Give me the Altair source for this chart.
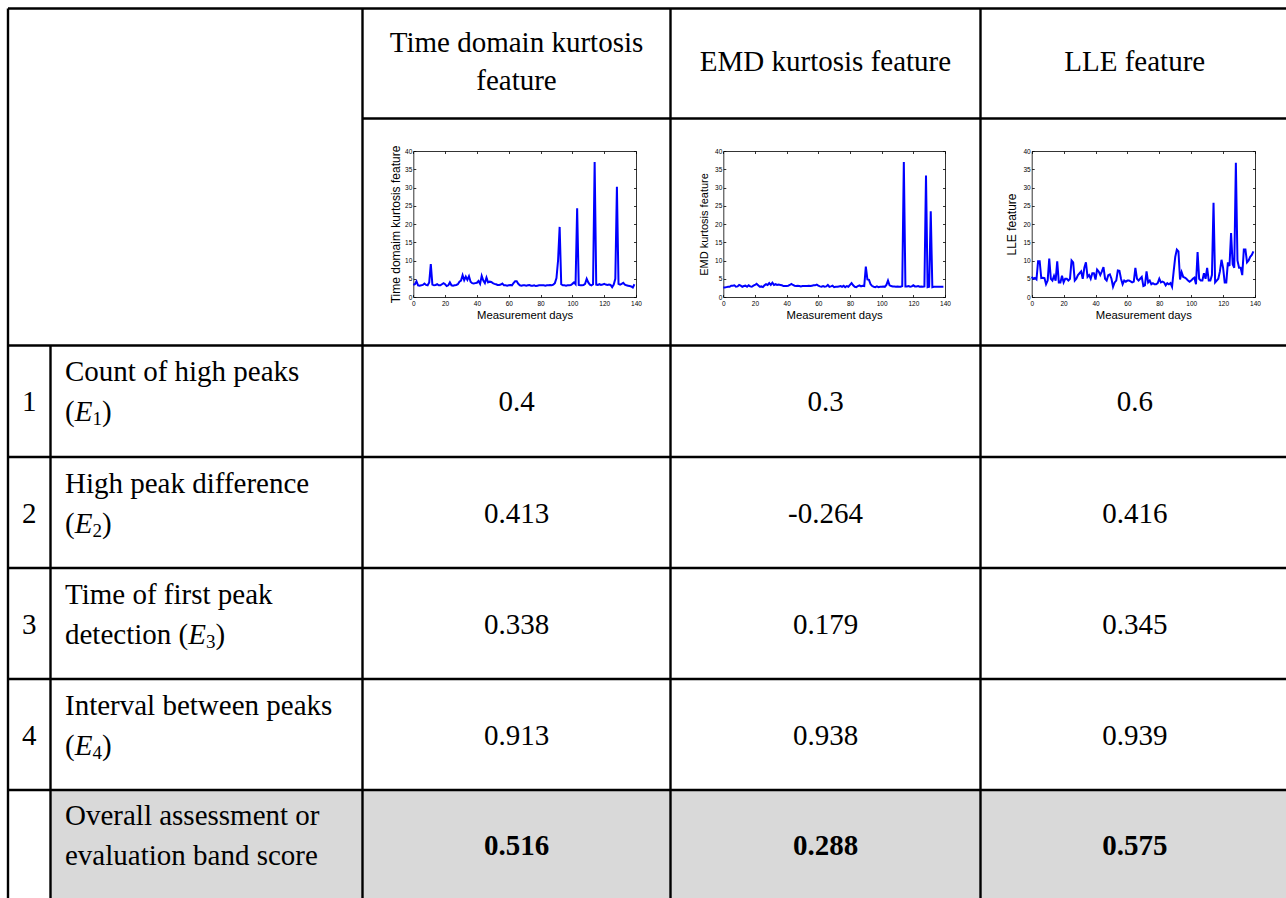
import altair as alt
import pandas as pd

W, H = 1286, 898
SERIF = "Liberation Serif"
SANS = "Liberation Sans"
FS = 29          # table font size
SUB_FS = 19      # subscript font size

# ---------------- data ----------------
days = list(range(140))

td_kurtosis = [
    3.3, 3.5, 4.3, 3.2, 3.1, 3.2, 3.3, 3.7, 3.3, 3.2,
    4.0, 9.0, 3.4, 3.2, 3.3, 3.5, 3.2, 3.2, 3.5, 3.8,
    3.5, 3.0, 3.2, 4.0, 3.2, 3.1, 3.2, 3.3, 3.5, 4.2,
    4.5, 6.0, 4.6, 5.6, 4.7, 5.7, 4.2, 3.8, 3.7, 3.8,
    3.9, 4.4, 3.6, 5.8, 4.5, 3.8, 5.3, 4.0, 4.2, 4.1,
    3.8, 3.6, 3.5, 3.3, 3.3, 3.4, 3.7, 3.2, 3.2, 3.1,
    3.2, 3.3, 3.2, 3.8, 4.3, 4.3, 3.6, 3.2, 3.1, 3.2,
    3.2, 3.1, 3.2, 3.3, 3.1, 3.1, 3.2, 3.0, 3.1, 3.2,
    3.2, 3.2, 3.2, 3.1, 3.2, 3.2, 3.3, 3.2, 3.4, 3.8,
    5.2, 10.0, 19.2, 3.5, 3.2, 3.2, 3.1, 3.2, 3.2, 3.3,
    3.6, 4.0, 3.5, 24.3, 3.3, 3.2, 3.2, 3.3, 3.6, 5.0,
    4.0, 3.4, 3.2, 3.5, 37.0, 3.4, 3.3, 3.5, 3.3, 3.4,
    3.6, 3.4, 3.3, 3.4, 3.3, 2.7, 3.4, 5.0, 30.2, 3.6,
    3.4, 3.6, 3.9, 3.4, 3.2, 3.1, 3.0, 2.9, 2.6, 3.5,
]

emd_kurtosis = [
    2.6, 2.6, 2.7, 2.8, 2.8, 3.1, 3.1, 3.2, 2.8, 2.9,
    3.3, 3.1, 2.8, 3.0, 3.1, 2.8, 3.2, 2.9, 2.8, 3.1,
    3.3, 3.6, 3.2, 2.8, 2.9, 2.7, 3.2, 3.5, 3.3, 3.8,
    3.3, 3.9, 3.3, 3.5, 3.3, 3.4, 3.3, 3.2, 3.0, 3.0,
    3.0, 3.1, 3.3, 3.6, 3.3, 3.1, 3.0, 3.1, 3.0, 2.9,
    3.0, 3.0, 3.0, 3.0, 3.1, 3.0, 3.1, 3.2, 3.2, 3.4,
    3.1, 2.9, 2.8, 3.0, 2.8, 2.9, 3.3, 2.8, 2.9, 3.1,
    2.7, 2.8, 2.8, 2.9, 3.0, 2.8, 3.1, 2.7, 3.0, 2.8,
    3.3, 3.8, 3.2, 2.8, 2.7, 3.0, 3.2, 2.9, 3.1, 3.0,
    8.3, 4.8, 4.7, 3.5, 3.0, 2.8, 2.7, 2.9, 2.7, 2.8,
    2.8, 2.9, 2.8, 3.3, 4.5, 3.2, 3.0, 2.9, 2.9, 2.8,
    2.9, 2.8, 2.8, 3.0, 37.0, 2.9, 2.9, 3.0, 2.8, 2.9,
    3.2, 2.9, 2.9, 3.0, 2.8, 2.9, 2.8, 2.9, 33.3, 2.7,
    2.8, 23.5, 2.7, 2.8, 2.8, 2.8, 2.8, 2.8, 2.8, 2.8,
]

lle_feature = [
    5.5, 5.0, 5.2, 4.8, 9.8, 9.8, 5.2, 5.3, 5.2, 3.5,
    4.5, 10.5, 5.0, 4.5, 5.8, 4.5, 9.8, 4.0, 4.0, 5.8,
    4.0, 5.0, 5.0, 4.5, 5.0, 10.0, 9.5, 4.5, 5.0, 6.0,
    6.5, 7.0, 5.0, 8.0, 9.5, 5.5, 6.0, 5.0, 6.5, 6.5,
    4.8, 7.5, 7.0, 6.0, 7.0, 8.2, 5.0, 4.5, 6.0, 6.2,
    5.0, 2.8, 4.0, 4.5, 7.3, 7.2, 5.0, 3.5, 4.5, 4.2,
    4.5, 4.5, 4.3, 4.0, 4.2, 8.0, 5.0, 4.5, 5.0, 5.5,
    3.0, 3.2, 7.0, 4.0, 4.5, 3.5, 3.8, 3.5, 3.5, 3.8,
    5.0, 4.0, 4.2, 4.0, 3.2, 3.8, 3.5, 3.8, 2.8, 7.0,
    11.0, 13.0, 12.5, 4.8, 6.8, 5.5, 5.3, 5.0, 4.5, 4.2,
    4.5, 5.0, 5.3, 3.5, 12.3, 5.0, 4.5, 4.5, 6.5, 5.0,
    8.0, 4.5, 4.5, 6.0, 25.8, 4.0, 4.5, 5.0, 7.0, 10.2,
    8.0, 4.0, 4.0, 9.5, 8.5, 17.5, 9.0, 8.0, 36.8, 10.0,
    8.0, 8.0, 6.0, 13.0, 13.0, 9.5, 10.0, 11.0, 11.5, 12.5,
]

feature_header_lines = [["Time domain kurtosis", "feature"], ["EMD kurtosis feature"], ["LLE feature"]]
plot_y_titles = ["Time domaim kurtosis feature", "EMD kurtosis feature", "LLE feature"]
plot_x_title = "Measurement days"
criteria_numbers = ["1", "2", "3", "4"]
criteria_line1 = ["Count of high peaks", "High peak difference", "Time of first peak", "Interval between peaks"]
criteria_line2_prefix = ["", "", "detection ", ""]
criteria_symbol = "E"
criteria_subscripts = ["1", "2", "3", "4"]
scores = [
    ["0.4", "0.413", "0.338", "0.913"],   # time domain kurtosis
    ["0.3", "-0.264", "0.179", "0.938"],  # EMD kurtosis
    ["0.6", "0.416", "0.345", "0.939"],   # LLE
]
overall_label = ["Overall assessment or", "evaluation band score"]
overall_scores = ["0.516", "0.288", "0.575"]
x_ticks = [0, 20, 40, 60, 80, 100, 120, 140]
y_ticks = [0, 5, 10, 15, 20, 25, 30, 35, 40]

# ---------------- layout ----------------
XE = [8, 50.5, 362.5, 670.5, 980.5, 1289]
YE = [8.5, 118.5, 345.5, 457, 568, 679, 790, 900]
col_centers = [(XE[i] + XE[i + 1]) / 2 for i in range(2, 5)]
row_centers = [(YE[i] + YE[i + 1]) / 2 for i in range(2, 7)]
LABEL_X = 65
LINE_OFF = 20          # baseline offset of the two label lines from the row centre
header_base = [[52, 90], [71], [71]]

# frames of the three small plots
PLOT_X = [(413.3, 636), (723.3, 945), (1031.7, 1255)]
PLOT_YT, PLOT_YB = 151, 297
YTITLE_SIZE = [12, 11, 12]
YTITLE_PAD = [2, 5, 4]

# Times metrics (em) for composing label + italic symbol + subscript
TW = {'(': 0.333, ')': 0.333, 'd': 0.5, 'e': 0.444, 't': 0.278, 'c': 0.444,
      'i': 0.278, 'o': 0.5, 'n': 0.5, ' ': 0.25}


def adv(s, size):
    return sum(TW[c] for c in s) * size


XS = alt.Scale(domain=[0, W], range=[0, W])
YS = alt.Scale(domain=[0, H], range=[0, H])


def px(df, mark):
    return alt.Chart(df).mark_text(**mark).encode(
        x=alt.X("x:Q", scale=XS, axis=None),
        y=alt.Y("y:Q", scale=YS, axis=None),
        text="t:N",
    )


# grid segments
segs = [(XE[0], XE[-1], YE[0], YE[0]), (XE[2], XE[-1], YE[1], YE[1])]
for y in YE[2:]:
    segs.append((XE[0], XE[-1], y, y))
segs.append((XE[0], XE[0], YE[0], YE[-1]))
segs.append((XE[1], XE[1], YE[2], YE[-1]))
for x in XE[2:]:
    segs.append((x, x, YE[0], YE[-1]))
seg_df = pd.DataFrame(segs, columns=["x", "x2", "y", "y2"])

grey_df = pd.DataFrame([{"x": XE[1], "x2": XE[-1], "y": YE[6], "y2": YE[7]}])

grey = alt.Chart(grey_df).mark_rect(color="#d9d9d9").encode(
    x=alt.X("x:Q", scale=XS, axis=None), x2="x2:Q",
    y=alt.Y("y:Q", scale=YS, axis=None), y2="y2:Q")
grid = alt.Chart(seg_df).mark_rule(color="black", strokeWidth=2.4).encode(
    x=alt.X("x:Q", scale=XS, axis=None), x2="x2:Q",
    y=alt.Y("y:Q", scale=YS, axis=None), y2="y2:Q")

center_txt, left_txt, italic_txt, sub_txt, bold_txt = [], [], [], [], []
for c, lines in enumerate(feature_header_lines):
    for ln, yb in zip(lines, header_base[c]):
        center_txt.append({"x": col_centers[c], "y": yb, "t": ln})
for r in range(4):
    rc = row_centers[r]
    center_txt.append({"x": (XE[0] + XE[1]) / 2, "y": rc + 10, "t": criteria_numbers[r]})
    for c in range(3):
        center_txt.append({"x": col_centers[c], "y": rc + 10, "t": scores[c][r]})
    left_txt.append({"x": LABEL_X, "y": rc - LINE_OFF, "t": criteria_line1[r]})
    pre = criteria_line2_prefix[r] + "("
    b2 = rc + LINE_OFF
    left_txt.append({"x": LABEL_X, "y": b2, "t": pre})
    xe = LABEL_X + adv(pre, FS)
    italic_txt.append({"x": xe, "y": b2, "t": criteria_symbol})
    xs = xe + 0.611 * FS
    sub_txt.append({"x": xs, "y": b2 + 4, "t": criteria_subscripts[r]})
    left_txt.append({"x": xs + 0.5 * SUB_FS, "y": b2, "t": ")"})
rc5 = row_centers[4]
for ln, yb in zip(overall_label, [rc5 - LINE_OFF, rc5 + LINE_OFF]):
    left_txt.append({"x": LABEL_X, "y": yb, "t": ln})
for c in range(3):
    bold_txt.append({"x": col_centers[c], "y": rc5 + 10, "t": overall_scores[c]})

base_font = dict(font=SERIF, fontSize=FS, color="black", baseline="alphabetic")
layers = [
    grey, grid,
    px(pd.DataFrame(center_txt), dict(align="center", **base_font)),
    px(pd.DataFrame(left_txt), dict(align="left", **base_font)),
    px(pd.DataFrame(italic_txt), dict(align="left", fontStyle="italic", **base_font)),
    px(pd.DataFrame(sub_txt), dict(align="left", font=SERIF, fontSize=SUB_FS, color="black", baseline="alphabetic")),
    px(pd.DataFrame(bold_txt), dict(align="center", fontWeight="bold", **base_font)),
]

AX = dict(grid=False, labelFlush=False, labelOverlap=False, domainColor="black",
          tickColor="black", domainWidth=0.8, tickWidth=0.8)
series = [td_kurtosis, emd_kurtosis, lle_feature]
for i, vals in enumerate(series):
    x0, x1 = PLOT_X[i]
    df = pd.DataFrame({"day": days, "v": vals})
    xs = alt.Scale(domain=[0, 140], range=[x0, x1])
    ys = alt.Scale(domain=[0, 40], range=[PLOT_YB, PLOT_YT])
    main = alt.Chart(df).mark_line(color="#0000ff", strokeWidth=2).encode(
        x=alt.X("day:Q", scale=xs, axis=alt.Axis(
            orient="bottom", offset=PLOT_YB - H, values=x_ticks, ticks=False, tickSize=0,
            labelFont=SANS, labelFontSize=6.5, labelPadding=3, labelColor="black",
            title=plot_x_title, titleFont=SANS, titleFontSize=11.3, titleFontWeight="normal",
            titleColor="black", titlePadding=3, **AX)),
        y=alt.Y("v:Q", scale=ys, axis=alt.Axis(
            orient="left", offset=-x0, values=y_ticks, ticks=False, tickSize=0,
            labelFont=SANS, labelFontSize=6.5, labelPadding=1.5, labelColor="black",
            title=plot_y_titles[i], titleFont=SANS, titleFontSize=YTITLE_SIZE[i],
            titleFontWeight="normal", titleColor="black", titlePadding=YTITLE_PAD[i], **AX)),
    )
    ticks_in = alt.Chart(df).mark_point(opacity=0).encode(
        x=alt.X("day:Q", scale=xs, axis=alt.Axis(
            orient="top", offset=-PLOT_YB, values=x_ticks, labels=False, domain=False,
            ticks=True, tickSize=2.5, title=None, **AX)),
        y=alt.Y("v:Q", scale=ys, axis=alt.Axis(
            orient="right", offset=x0 - W, values=y_ticks, labels=False, domain=False,
            ticks=True, tickSize=2.5, title=None, **AX)),
    )
    ticks_far = alt.Chart(df).mark_point(opacity=0).encode(
        x=alt.X("day:Q", scale=xs, axis=alt.Axis(
            orient="bottom", offset=PLOT_YT - H, values=x_ticks, labels=False, domain=True,
            ticks=True, tickSize=2.5, title=None, **AX)),
        y=alt.Y("v:Q", scale=ys, axis=alt.Axis(
            orient="left", offset=-x1, values=y_ticks, labels=False, domain=True,
            ticks=True, tickSize=2.5, title=None, **AX)),
    )
    layers += [main, ticks_in, ticks_far]

chart = alt.layer(*layers).resolve_scale(
    x="independent", y="independent"
).resolve_axis(
    x="independent", y="independent"
).properties(
    width=W, height=H, padding=0, autosize=alt.AutoSizeParams(type="none"),
    background="white",
).configure_view(stroke=None)

chart.save("out.html", embed_options={"renderer": "svg", "actions": False})
